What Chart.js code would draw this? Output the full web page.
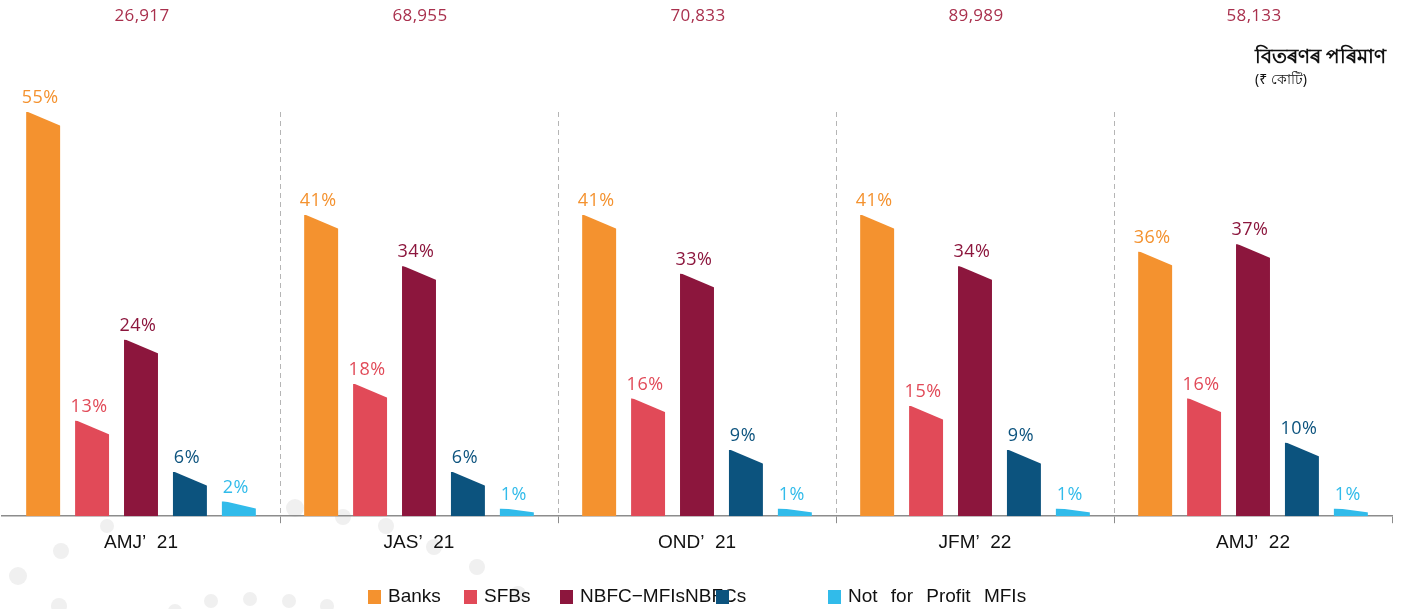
<!DOCTYPE html>
<html><head><meta charset="utf-8">
<script src="https://cdn.jsdelivr.net/npm/chart.js@4/dist/chart.umd.min.js"></script>
<style>html,body{margin:0;padding:0;background:#fff;} canvas{display:block;}</style>
</head><body>
<canvas id="c" width="1406" height="609"></canvas>
<script>
const quarters = ["AMJ’  21", "JAS’  21", "OND’  21", "JFM’  22", "AMJ’  22"];
const disbursement = ["26,917", "68,955", "70,833", "89,989", "58,133"];
const banks = [55, 41, 41, 41, 36];
const sfbs = [13, 18, 16, 15, 16];
const nbfcMfis = [24, 34, 33, 34, 37];
const nbfcs = [6, 6, 9, 9, 10];
const nfpMfis = [2, 1, 1, 1, 1];
const seriesNames = ["Banks", "SFBs", "NBFC−MFIs", "NBFCs", "Not for Profit MFIs"];
const seriesColors = ["#F4922F", "#E14A58", "#8C163D", "#0C537E", "#31BBEA"];
const titleMain = "বিতৰণৰ পৰিমাণ";
const titleSub = "(₹ কোটি)";

const seriesValues = [banks, sfbs, nbfcMfis, nbfcs, nfpMfis];

const dots = [[107,526,7],[61,551,8],[18,576,9],[59,606,8],[295,508,9],[343,517,8],[386,526,8],
  [434,547,8],[477,567,8],[518,594,8],[211,601,7],[250,599,7],[289,601,7],[327,606,7],[175,611,7]];

const decorPlugin = {
  id: 'decor',
  beforeDraw(chart) {
    const ctx = chart.ctx;
    ctx.save();
    ctx.fillStyle = '#fff';
    ctx.fillRect(0, 0, chart.width, chart.height);
    ctx.fillStyle = '#f0f0f0';
    for (const [x, y, r] of dots) {
      ctx.beginPath(); ctx.arc(x, y, r, 0, Math.PI * 2); ctx.fill();
    }
    ctx.restore();
  },
  afterDatasetsDraw(chart) {
    const ctx = chart.ctx;
    ctx.save();
    chart.data.datasets.forEach((ds, di) => {
      const meta = chart.getDatasetMeta(di);
      meta.data.forEach((bar, i) => {
        const p = bar.getProps(['x', 'y', 'base', 'width'], true);
        const l = p.x - p.width / 2, r = p.x + p.width / 2;
        const h = p.base - p.y;
        const s = Math.min(14, h * 0.5);
        ctx.fillStyle = '#fff';
        ctx.beginPath();
        ctx.moveTo(l - 0.5, p.y - 1);
        ctx.lineTo(r + 1, p.y - 1);
        ctx.lineTo(r + 1, p.y + s);
        ctx.closePath();
        ctx.fill();
        ctx.fillStyle = seriesColors[di];
        ctx.font = '18px "Open Sans", sans-serif';
        ctx.letterSpacing = '0.5px';
        ctx.textAlign = 'center';
        ctx.textBaseline = 'middle';
        ctx.fillText(ds.data[i] + '%', p.x - 3, p.y - 14);
      });
    });
    ctx.restore();
  },
  afterDraw(chart) {
    const ctx = chart.ctx;
    const xs = chart.scales.x;
    ctx.save();
    // disbursement totals
    ctx.fillStyle = '#A9304D';
    ctx.font = '17px "Open Sans", sans-serif';
    ctx.letterSpacing = '0.3px';
    ctx.textAlign = 'center';
    ctx.textBaseline = 'middle';
    disbursement.forEach((v, i) => ctx.fillText(v, xs.getPixelForValue(i) + 1, 16));
    ctx.letterSpacing = '0px';
    // title
    ctx.fillStyle = '#111';
    ctx.textAlign = 'left';
    ctx.font = 'bold 20px "Noto Sans", sans-serif';
    ctx.fillText(titleMain, 1255, 57);
    ctx.font = '14px "Noto Sans", sans-serif';
    ctx.fillText(titleSub, 1255, 80);
    // legend
    const mx = [368, 464, 560, 716, 828];
    const tx = [388, 484, 580, 685, 848];
    ctx.font = '19px "Liberation Sans", Arial, sans-serif';
    ctx.wordSpacing = '8px';
    ctx.fillStyle = '#111';
    seriesNames.forEach((n, i) => ctx.fillText(n, tx[i], 597));
    seriesNames.forEach((n, i) => {
      ctx.fillStyle = seriesColors[i];
      ctx.fillRect(mx[i], 590, 13, 14);
    });
    ctx.restore();
  }
};

new Chart(document.getElementById('c'), {
  type: 'bar',
  data: {
    labels: quarters,
    datasets: seriesNames.map((n, i) => ({
      label: n,
      data: seriesValues[i],
      backgroundColor: seriesColors[i],
      borderWidth: 0,
      categoryPercentage: 0.88,
      barPercentage: 0.694
    }))
  },
  options: {
    responsive: false,
    animation: false,
    devicePixelRatio: 1,
    layout: { padding: { top: 112, left: 2, right: 14, bottom: 47 } },
    plugins: { legend: { display: false }, tooltip: { enabled: false } },
    scales: {
      y: { display: false, min: 0, max: 55 },
      x: {
        grid: {
          offset: true,
          lineWidth: 1,
          drawTicks: true,
          tickLength: 7,
          color: (c) => (c.index === undefined || c.index === 0) ? 'rgba(0,0,0,0)' : '#b5b5b5',
          tickColor: (c) => (c.index === 0) ? 'rgba(0,0,0,0)' : '#8c8c8c'
        },
        border: { display: true, color: '#8c8c8c', width: 1.5, dash: [5, 4] },
        ticks: {
          color: '#111',
          padding: 8,
          font: { family: '"Liberation Sans", Arial, sans-serif', size: 19 }
        }
      }
    }
  },
  plugins: [decorPlugin]
});
</script>
</body></html>
